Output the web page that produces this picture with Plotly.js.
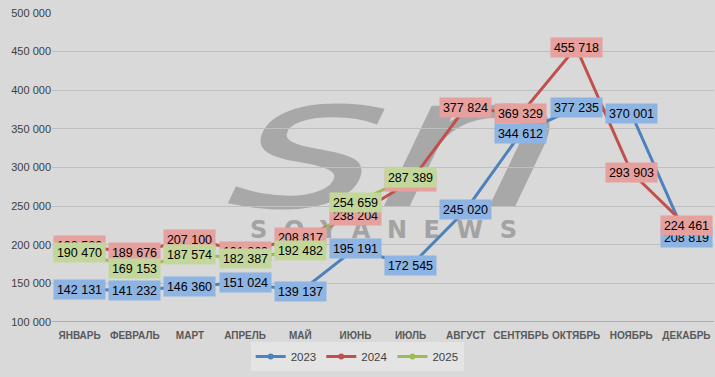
<!DOCTYPE html>
<html><head><meta charset="utf-8">
<script src="https://cdn.plot.ly/plotly-3.0.1.min.js"></script>
<style>html,body{margin:0;padding:0;background:#d9d9d9}</style>
</head><body>
<div id="chart" style="width:715px;height:377px"></div>
<script>
var months = ['ЯНВАРЬ','ФЕВРАЛЬ','МАРТ','АПРЕЛЬ','МАЙ','ИЮНЬ','ИЮЛЬ','АВГУСТ','СЕНТЯБРЬ','ОКТЯБРЬ','НОЯБРЬ','ДЕКАБРЬ'];
var months2025 = ['ЯНВАРЬ','ФЕВРАЛЬ','МАРТ','АПРЕЛЬ','МАЙ','ИЮНЬ','ИЮЛЬ'];
var v2023 = [142131,141232,146360,151024,139137,195191,172545,245020,344612,377235,370001,208819];
var v2024 = [198586,189676,207100,191869,208817,238204,282000,377824,369329,455718,293903,224461];
var v2025 = [190470,169153,187574,182387,192482,254659,287389];
var yTicks = [100000,150000,200000,250000,300000,350000,400000,450000,500000];

var series = [
  {name:'2023', x:months, y:v2023, line:'#4f81bd', box:'#8db4e2'},
  {name:'2024', x:months, y:v2024, line:'#c0504d', box:'#e6a09e'},
  {name:'2025', x:months2025, y:v2025, line:'#9bbb59', box:'#c4d79b'}
];

function fmt(v){ return String(v).replace(/\B(?=(\d{3})+(?!\d))/g,' '); }

var traces = series.map(function(s){
  return {type:'scatter', mode:'lines+markers', name:s.name, x:s.x, y:s.y, showlegend:false,
    line:{color:s.line, width:3}, marker:{color:s.line, size:17, symbol:'circle'},
    hoverinfo:'skip'};
});
// legend entries (small symbols as in the reference legend)
series.forEach(function(s){
  traces.push({type:'scatter', mode:'lines+markers', name:s.name, x:[null], y:[null],
    line:{color:s.line, width:3}, marker:{color:s.line, size:6}, hoverinfo:'skip'});
});

var annotations = [];
series.forEach(function(s){
  s.y.forEach(function(v,i){
    annotations.push({x:s.x[i], y:v, xref:'x', yref:'y', text:fmt(v), showarrow:false,
      bgcolor:s.box, width:51, height:19, borderpad:0,
      font:{family:'Liberation Sans Narrow, Liberation Sans, Arial', size:12.5, color:'#000'}});
  });
});

// watermark (drawn below the traces)
var svg = '<svg xmlns="http://www.w3.org/2000/svg" width="662" height="309" viewBox="0 0 662 309">' +
  '<text transform="translate(172,194) skewX(-10) scale(1.55,1)" font-family="DejaVu Sans" font-style="italic" font-size="185" fill="#a8a8a8">sn</text>' +
  '<text x="198" y="225" font-family="DejaVu Sans" font-weight="bold" font-size="24" fill="#a3a3a3" textLength="267" lengthAdjust="spacing">SOYANEWS</text>' +
  '</svg>';

var layout = {
  width:715, height:377,
  margin:{l:52, r:1, t:13, b:55},
  paper_bgcolor:'#d9d9d9', plot_bgcolor:'rgba(0,0,0,0)',
  separators:', ',
  showlegend:true,
  legend:{orientation:'h', x:0.461, xanchor:'center', y:-0.065, yanchor:'top',
    bgcolor:'#e4e4e4', font:{family:'Liberation Sans', size:11.5, color:'#404040'},
    itemwidth:30, tracegroupgap:0},
  xaxis:{type:'category', range:[-0.5,11.5], showgrid:false, zeroline:false,
    showline:false, ticks:'', ticklabelstandoff:6,
    tickfont:{family:'Liberation Sans', size:10, color:'#595959', weight:'bold'}},
  yaxis:{range:[100000,500000], tickvals:yTicks, tickformat:',d', showgrid:true,
    gridcolor:'#bfbfbf', gridwidth:1, zeroline:false, showline:false, ticks:'',
    tickfont:{family:'Liberation Sans', size:11, color:'#404040'}},
  shapes:[{type:'line', xref:'paper', yref:'y', x0:0, x1:1, y0:100000, y1:100000,
    line:{color:'#808080', width:1}}],
  images:[{source:'data:image/svg+xml;charset=utf-8,' + encodeURIComponent(svg),
    xref:'paper', yref:'paper', x:0, y:1, sizex:1, sizey:1, xanchor:'left', yanchor:'top',
    sizing:'stretch', layer:'below'}],
  annotations:annotations
};

Plotly.newPlot('chart', traces, layout, {displayModeBar:false, staticPlot:true});
</script>
</body></html>
